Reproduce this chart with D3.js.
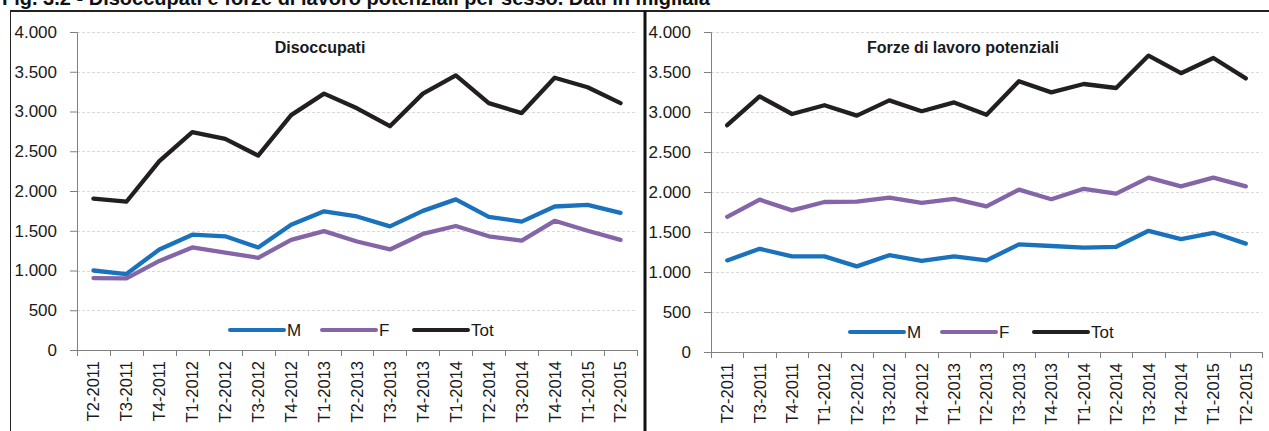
<!DOCTYPE html>
<html>
<head>
<meta charset="utf-8">
<script src="https://cdn.jsdelivr.net/npm/d3@7"></script>
<style>
  html, body { margin: 0; padding: 0; background: #fff; }
  svg { display: block; font-family: "Liberation Sans", Arial, sans-serif; }
</style>
</head>
<body>
<svg id="chart" width="1269" height="431"></svg>
<script>
// ---- Data ----
const categories = ["T2-2011","T3-2011","T4-2011","T1-2012","T2-2012","T3-2012","T4-2012",
  "T1-2013","T2-2013","T3-2013","T4-2013","T1-2014","T2-2014","T3-2014","T4-2014","T1-2015","T2-2015"];
const yTicks = [0, 500, 1000, 1500, 2000, 2500, 3000, 3500, 4000];

// Disoccupati
const disM   = [1000, 955, 1265, 1450, 1430, 1290, 1575, 1745, 1680, 1555, 1750, 1895, 1675, 1615, 1805, 1825, 1725];
const disF   = [905, 900, 1120, 1290, 1225, 1160, 1385, 1495, 1365, 1265, 1460, 1560, 1430, 1375, 1625, 1500, 1385];
const disTot = [1905, 1865, 2375, 2740, 2655, 2445, 2955, 3225, 3040, 2815, 3225, 3455, 3105, 2980, 3425, 3305, 3105];

// Forze di lavoro potenziali
const flpM   = [1145, 1290, 1195, 1195, 1070, 1210, 1140, 1195, 1145, 1345, 1325, 1305, 1315, 1515, 1410, 1490, 1355];
const flpF   = [1690, 1905, 1770, 1875, 1880, 1930, 1865, 1915, 1820, 2030, 1910, 2040, 1980, 2180, 2070, 2180, 2070];
const flpTot = [2835, 3195, 2975, 3085, 2955, 3145, 3010, 3120, 2965, 3385, 3245, 3350, 3300, 3705, 3485, 3675, 3420];

const seriesNames = ["M", "F", "Tot"];
const seriesColors = ["#1b72bc", "#8466a8", "#231f20"];

const mainTitle = "Fig. 3.2 - Disoccupati e forze di lavoro potenziali per sesso. Dati in migliaia";
const panelTitles = ["Disoccupati", "Forze di lavoro potenziali"];

// ---- Drawing ----
const svg = d3.select("#chart");
const locale = d3.formatLocale({decimal: ",", thousands: ".", grouping: [3], currency: ["", ""]});
const fmt = locale.format(",");

// main title (cut at top, as in the original)
svg.append("text")
  .attr("x", 2).attr("y", 5)
  .attr("font-size", 20).attr("font-weight", "bold").attr("fill", "#111")
  .attr("textLength", 708).attr("lengthAdjust", "spacingAndGlyphs")
  .text(mainTitle);

// frame lines
svg.append("rect").attr("x", 0).attr("y", 10).attr("width", 1269).attr("height", 421).attr("fill", "#fff");
svg.append("line").attr("x1", 10).attr("x2", 1269).attr("y1", 11).attr("y2", 11)
  .attr("stroke", "#222").attr("stroke-width", 2);
svg.append("line").attr("x1", 10.5).attr("x2", 10.5).attr("y1", 11).attr("y2", 431)
  .attr("stroke", "#222").attr("stroke-width", 1);
svg.append("line").attr("x1", 645).attr("x2", 645).attr("y1", 11).attr("y2", 431)
  .attr("stroke", "#111").attr("stroke-width", 3);

function drawPanel(cfg) {
  const g = svg.append("g");
  const x = d3.scaleBand().domain(categories).range([cfg.x0, cfg.x1]).padding(0);
  const y = d3.scaleLinear().domain([0, 4000]).range([cfg.yb, cfg.yt]);
  const bw = x.bandwidth();

  // gridlines
  g.append("g").selectAll("line").data(yTicks.filter(d => d > 0)).join("line")
    .attr("x1", cfg.x0).attr("x2", cfg.x1)
    .attr("y1", d => Math.round(y(d)) + 0.5).attr("y2", d => Math.round(y(d)) + 0.5)
    .attr("stroke", "#d9d9d9").attr("stroke-width", 1).attr("stroke-dasharray", "3,2");

  // y axis
  const ya = g.append("g").attr("transform", `translate(${cfg.x0},0)`)
    .call(d3.axisLeft(y).tickValues(yTicks).tickFormat(fmt).tickSize(7).tickPadding(13));
  ya.select(".domain").attr("stroke", "#808080");
  ya.selectAll(".tick line").attr("stroke", "#808080");
  ya.selectAll(".tick text").attr("font-size", 17).attr("fill", "#1a1a1a")
    .attr("font-family", "'Liberation Sans', Arial, sans-serif");

  // x axis
  const xg = g.append("g");
  xg.append("line").attr("x1", cfg.x0).attr("x2", cfg.x1)
    .attr("y1", cfg.yb + 0.5).attr("y2", cfg.yb + 0.5).attr("stroke", "#808080");
  const bounds = categories.map(c => x(c)).concat([cfg.x1]);
  xg.selectAll("line.tk").data(bounds).join("line").attr("class", "tk")
    .attr("x1", d => Math.round(d) + 0.5).attr("x2", d => Math.round(d) + 0.5)
    .attr("y1", cfg.yb).attr("y2", cfg.yb + 6).attr("stroke", "#808080");
  xg.selectAll("text").data(categories).join("text")
    .attr("transform", d => `translate(${x(d) + bw / 2},${cfg.yb + 11}) rotate(-90)`)
    .attr("text-anchor", "end").attr("dy", "0.36em")
    .attr("font-size", 16.5).attr("fill", "#1a1a1a")
    .text(d => d);

  // lines
  const line = d3.line().x((d, i) => x(categories[i]) + bw / 2).y(d => y(d));
  cfg.series.forEach((vals, k) => {
    g.append("path").datum(vals)
      .attr("d", line).attr("fill", "none")
      .attr("stroke", seriesColors[k]).attr("stroke-width", 4.3)
      .attr("stroke-linejoin", "round").attr("stroke-linecap", "round");
  });

  // title
  g.append("text").attr("x", cfg.titleX).attr("y", 53)
    .attr("text-anchor", "middle").attr("font-size", 16).attr("font-weight", "bold")
    .attr("fill", "#1a1a1a").text(cfg.title);

  // legend
  const lg = g.append("g").attr("transform", `translate(${cfg.legX},${cfg.legY})`);
  seriesNames.forEach((n, k) => {
    const ox = k * 92;
    lg.append("line").attr("x1", ox).attr("x2", ox + 54).attr("y1", 0).attr("y2", 0)
      .attr("stroke", seriesColors[k]).attr("stroke-width", 4).attr("stroke-linecap", "round");
    lg.append("text").attr("x", ox + 57).attr("y", 0).attr("dy", "0.36em")
      .attr("font-size", 17).attr("fill", "#1a1a1a").text(n);
  });
}

drawPanel({x0: 77, x1: 637, yt: 32, yb: 350, series: [disM, disF, disTot],
  title: panelTitles[0], titleX: 320, legX: 230, legY: 330});
drawPanel({x0: 711, x1: 1262, yt: 32, yb: 352, series: [flpM, flpF, flpTot],
  title: panelTitles[1], titleX: 963, legX: 850, legY: 332});
</script>
</body>
</html>
